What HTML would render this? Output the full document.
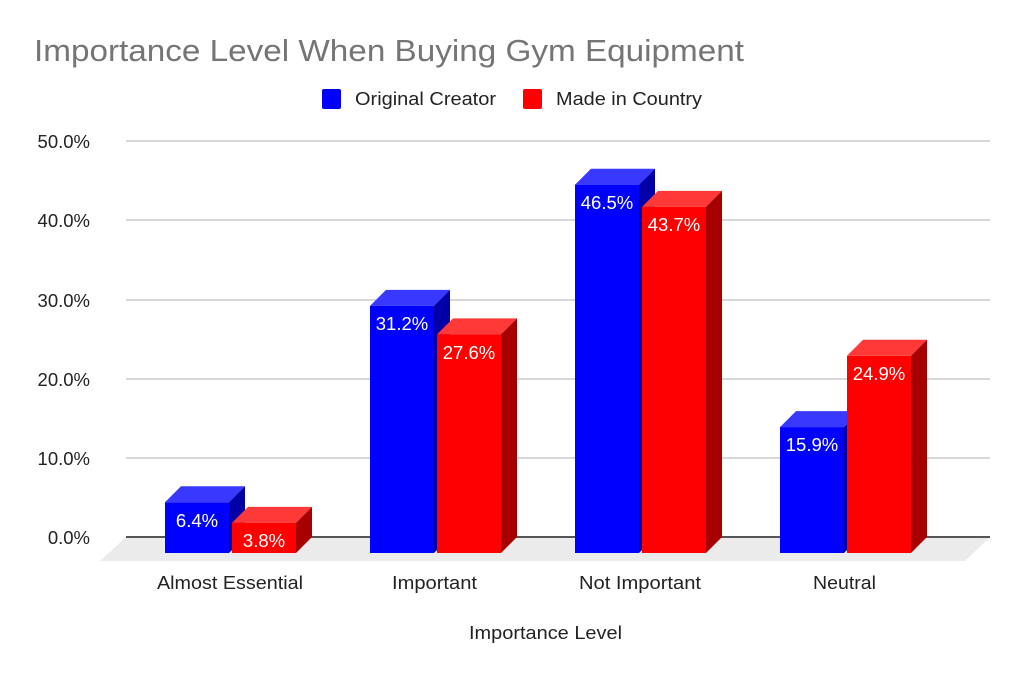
<!DOCTYPE html>
<html><head><meta charset="utf-8"><style>body{margin:0;background:#fff}svg{display:block}text{font-family:"Liberation Sans",Arial,sans-serif}</style></head>
<body>
<svg width="1024" height="676" viewBox="0 0 1024 676" xmlns="http://www.w3.org/2000/svg">
<rect width="1024" height="676" fill="#fff"/>
<text x="34" y="61" font-size="31" fill="#757575" textLength="710" lengthAdjust="spacingAndGlyphs">Importance Level When Buying Gym Equipment</text>
<rect x="322" y="89" width="19" height="20" rx="2" fill="#0000ff"/>
<text x="355" y="105" font-size="18" fill="#222" textLength="141" lengthAdjust="spacingAndGlyphs">Original Creator</text>
<rect x="523" y="89" width="19" height="20" rx="2" fill="#ff0000"/>
<text x="556" y="105" font-size="18" fill="#222" textLength="146" lengthAdjust="spacingAndGlyphs">Made in Country</text>
<g stroke="#cccccc" stroke-width="1.5">
<line x1="126" y1="141" x2="990" y2="141"/><line x1="126" y1="220" x2="990" y2="220"/>
<line x1="126" y1="300" x2="990" y2="300"/><line x1="126" y1="379" x2="990" y2="379"/>
<line x1="126" y1="458" x2="990" y2="458"/>
</g>
<polygon points="126,537 990,537 965,561 100,561" fill="#ebebeb"/>
<line x1="126" y1="537" x2="990" y2="537" stroke="#555" stroke-width="2"/>
<g font-size="18.5" fill="#222" text-anchor="end">
<text x="90" y="148">50.0%</text><text x="90" y="227">40.0%</text>
<text x="90" y="307">30.0%</text><text x="90" y="386">20.0%</text>
<text x="90" y="465">10.0%</text><text x="90" y="544">0.0%</text>
</g>
<g>
<polygon points="165,502.3 181,486.3 245,486.3 229,502.3" fill="#3838ff"/>
<polygon points="229,502.3 245,486.3 245,537 229,553" fill="#0000a6"/>
<rect x="165" y="502.3" width="64" height="50.7" fill="#0000ff"/>
<polygon points="232,522.9 248,506.9 312,506.9 296,522.9" fill="#ff3838"/>
<polygon points="296,522.9 312,506.9 312,537 296,553" fill="#a60000"/>
<rect x="232" y="522.9" width="64" height="30.1" fill="#ff0000"/>

<polygon points="370,305.9 386,289.9 450,289.9 434,305.9" fill="#3838ff"/>
<polygon points="434,305.9 450,289.9 450,537 434,553" fill="#0000a6"/>
<rect x="370" y="305.9" width="64" height="247.1" fill="#0000ff"/>
<polygon points="437,334.4 453,318.4 517,318.4 501,334.4" fill="#ff3838"/>
<polygon points="501,334.4 517,318.4 517,537 501,553" fill="#a60000"/>
<rect x="437" y="334.4" width="64" height="218.6" fill="#ff0000"/>

<polygon points="575,184.7 591,168.7 655,168.7 639,184.7" fill="#3838ff"/>
<polygon points="639,184.7 655,168.7 655,537 639,553" fill="#0000a6"/>
<rect x="575" y="184.7" width="64" height="368.3" fill="#0000ff"/>
<polygon points="642,206.9 658,190.9 722,190.9 706,206.9" fill="#ff3838"/>
<polygon points="706,206.9 722,190.9 722,537 706,553" fill="#a60000"/>
<rect x="642" y="206.9" width="64" height="346.1" fill="#ff0000"/>

<polygon points="780,427.1 796,411.1 860,411.1 844,427.1" fill="#3838ff"/>
<polygon points="844,427.1 860,411.1 860,537 844,553" fill="#0000a6"/>
<rect x="780" y="427.1" width="64" height="125.9" fill="#0000ff"/>
<polygon points="847,355.8 863,339.8 927,339.8 911,355.8" fill="#ff3838"/>
<polygon points="911,355.8 927,339.8 927,537 911,553" fill="#a60000"/>
<rect x="847" y="355.8" width="64" height="197.2" fill="#ff0000"/>
</g>
<g font-size="18.5" fill="#fff" text-anchor="middle">
<text x="197" y="527">6.4%</text><text x="264" y="547">3.8%</text>
<text x="402" y="330">31.2%</text><text x="469" y="359">27.6%</text>
<text x="607" y="209">46.5%</text><text x="674" y="231">43.7%</text>
<text x="812" y="451">15.9%</text><text x="879" y="380">24.9%</text>
</g>
<g font-size="18" fill="#222">
<text x="157" y="589" textLength="146" lengthAdjust="spacingAndGlyphs">Almost Essential</text>
<text x="392" y="589" textLength="85" lengthAdjust="spacingAndGlyphs">Important</text>
<text x="579" y="589" textLength="122" lengthAdjust="spacingAndGlyphs">Not Important</text>
<text x="813" y="589" textLength="63" lengthAdjust="spacingAndGlyphs">Neutral</text>
<text x="469" y="639" textLength="153" lengthAdjust="spacingAndGlyphs">Importance Level</text>
</g>
</svg>
</body></html>
